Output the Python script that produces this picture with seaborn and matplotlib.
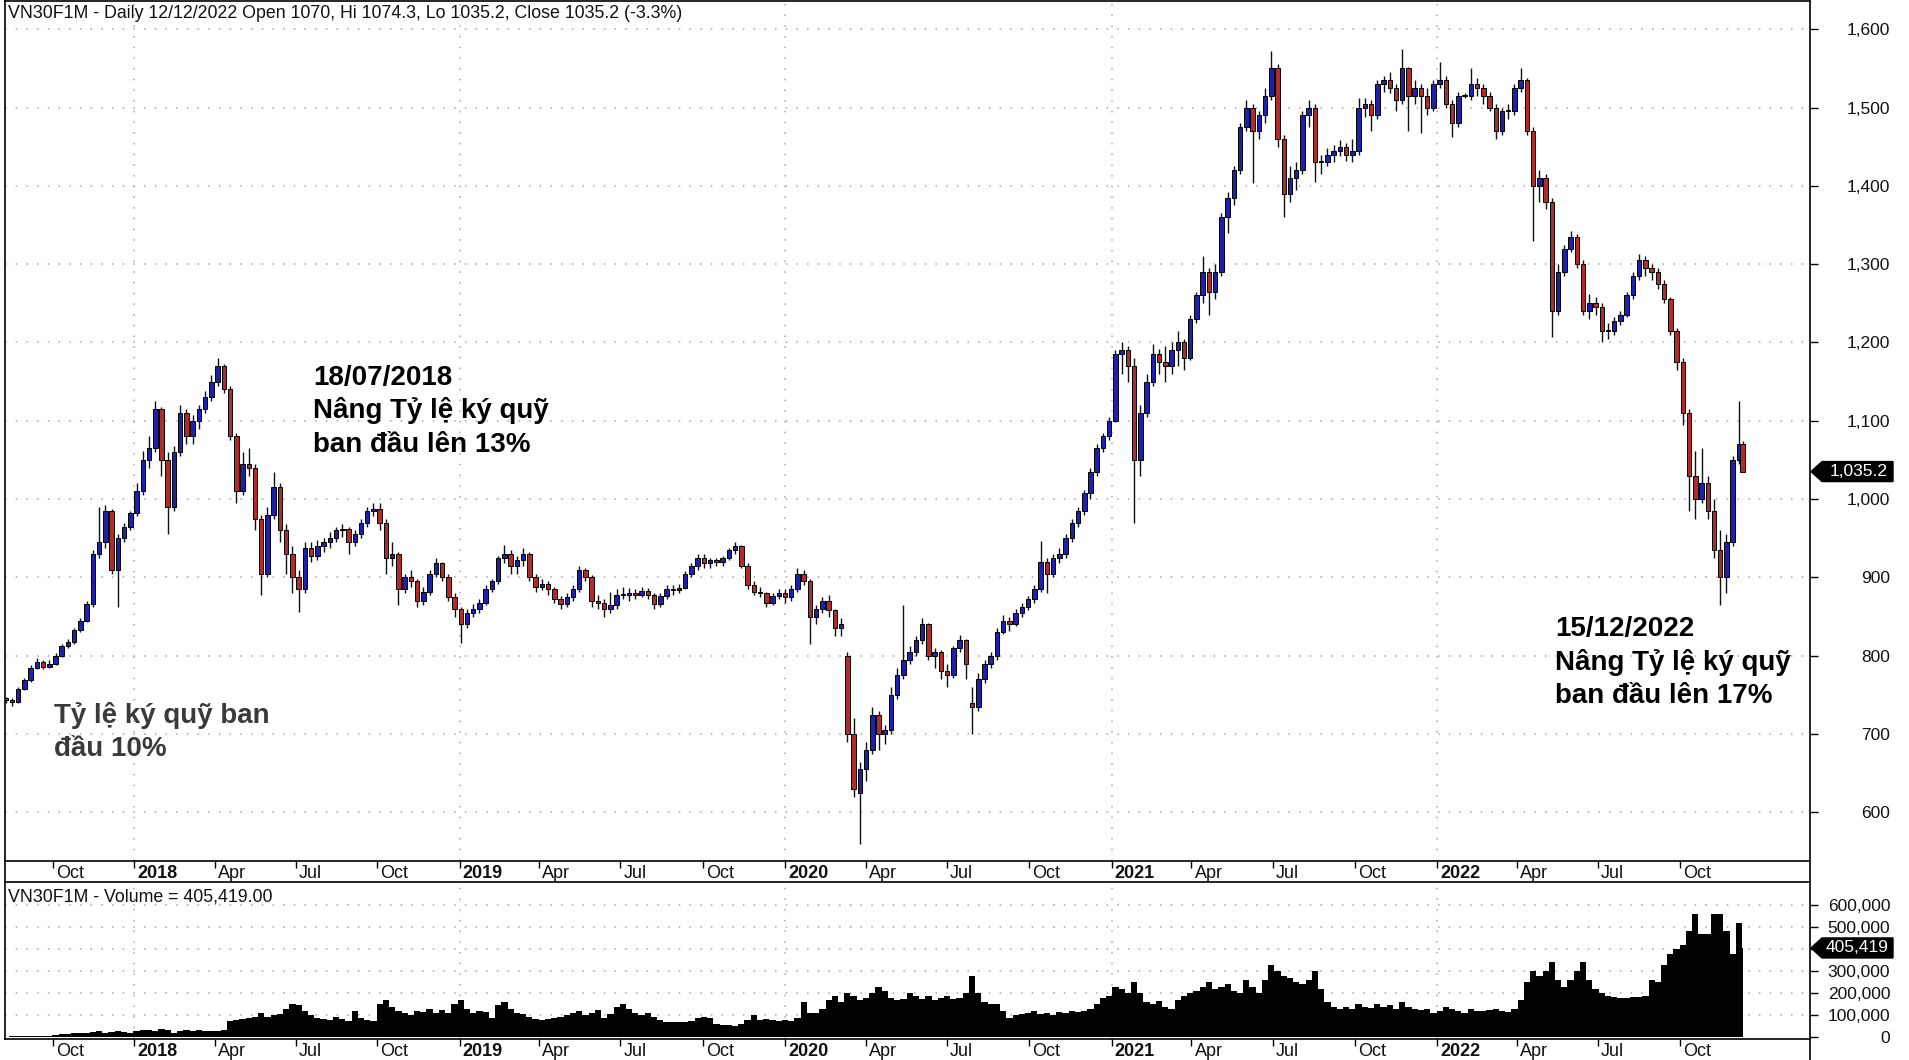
import numpy as np
import pandas as pd
import matplotlib
matplotlib.use("Agg")
import matplotlib.pyplot as plt
import matplotlib.transforms as mtransforms
from matplotlib.patches import Polygon
from matplotlib.lines import Line2D
import seaborn as sns

# ---------------- data (weekly candles, last = 12/12/2022) -------------
open_2017 = [745, 744, 741, 758, 769, 785, 792, 786, 790, 800, 812, 818, 833, 845, 866, 930, 945, 985, 910, 950, 965]
high_2017 = [748, 746, 760, 772, 788, 797, 794, 795, 803, 815, 822, 836, 848, 870, 935, 990, 992, 988, 955, 970, 985]
low_2017 = [740, 736, 740, 756, 767, 783, 783, 784, 788, 798, 810, 815, 830, 843, 862, 925, 938, 905, 862, 945, 960]
close_2017 = [744, 741, 758, 769, 785, 792, 786, 790, 800, 812, 818, 833, 845, 866, 930, 945, 985, 910, 950, 965, 982]
vol_k_2017 = [4, 5, 6, 6, 7, 8, 8, 9, 12, 15, 18, 20, 22, 20, 25, 28, 22, 25, 28, 25, 22]

open_2018 = [982, 1010, 1050, 1065, 1115, 1050, 990, 1060, 1110, 1080, 1100, 1115, 1130,
             1150, 1170, 1140, 1080, 1010, 1045, 1040, 975, 905, 980, 1015, 960, 930,
             900, 885, 938, 928, 940, 945, 950, 960, 962, 945, 955, 970, 985,
             988, 970, 925, 930, 885, 900, 895, 870, 882, 905, 918, 900, 875]
high_2018 = [1020, 1062, 1080, 1125, 1118, 1060, 1068, 1120, 1115, 1108, 1120, 1138, 1158,
             1180, 1172, 1145, 1085, 1060, 1065, 1045, 980, 990, 1035, 1020, 968, 940,
             910, 945, 945, 948, 950, 958, 965, 968, 965, 960, 975, 990, 995,
             995, 975, 945, 932, 905, 910, 898, 888, 910, 925, 920, 905, 880]
low_2018 = [978, 1005, 1040, 1060, 1030, 955, 985, 1055, 1070, 1070, 1090, 1110, 1125,
            1145, 1135, 1075, 995, 1005, 1030, 960, 878, 900, 975, 945, 905, 880,
            856, 880, 920, 922, 932, 938, 945, 952, 930, 940, 950, 965, 978,
            960, 905, 915, 865, 880, 888, 862, 865, 878, 900, 895, 870, 850]
close_2018 = [1010, 1050, 1065, 1115, 1050, 990, 1060, 1110, 1080, 1100, 1115, 1130, 1150,
              1170, 1140, 1080, 1010, 1045, 1040, 975, 905, 980, 1015, 960, 930, 900,
              885, 938, 928, 940, 945, 950, 960, 962, 945, 955, 970, 985, 988,
              970, 925, 930, 885, 900, 895, 870, 882, 905, 918, 900, 875, 860]
vol_k_2018 = [30, 32, 35, 30, 40, 35, 20, 30, 35, 30, 35, 30, 28,
              30, 32, 75, 80, 85, 90, 95, 110, 95, 100, 105, 130, 150,
              145, 120, 100, 90, 85, 80, 95, 85, 75, 120, 90, 80, 75,
              150, 170, 140, 120, 110, 100, 120, 115, 130, 110, 125, 110, 150]

open_2019 = [860, 840, 855, 860, 868, 885, 895, 925, 930, 915, 922, 930, 900,
             888, 892, 885, 872, 866, 875, 885, 910, 900, 870, 868, 860, 865,
             878, 878, 880, 878, 883, 878, 866, 876, 885, 884, 887, 905, 915,
             925, 918, 922, 920, 925, 935, 940, 915, 890, 882, 880, 868, 876]
high_2019 = [862, 860, 866, 872, 890, 898, 928, 942, 935, 928, 938, 932, 905,
             898, 895, 888, 876, 880, 890, 915, 912, 903, 878, 872, 882, 885,
             888, 886, 885, 888, 886, 880, 880, 890, 890, 892, 908, 918, 930,
             930, 925, 925, 928, 938, 945, 942, 918, 895, 888, 882, 880, 885]
low_2019 = [816, 835, 850, 855, 865, 882, 892, 918, 905, 905, 915, 895, 882,
            884, 878, 868, 860, 862, 870, 882, 895, 862, 860, 850, 855, 860,
            872, 870, 872, 875, 872, 860, 862, 872, 878, 880, 885, 900, 910,
            912, 912, 915, 915, 922, 930, 912, 885, 878, 875, 862, 865, 872]
close_2019 = [840, 855, 860, 868, 885, 895, 925, 930, 915, 922, 930, 900, 888,
              892, 885, 872, 866, 875, 885, 910, 900, 870, 868, 860, 865, 878,
              878, 880, 878, 883, 878, 866, 876, 885, 884, 887, 905, 915, 925,
              918, 922, 920, 925, 935, 940, 915, 890, 882, 880, 868, 876, 880]
vol_k_2019 = [170, 130, 110, 120, 115, 90, 145, 160, 130, 110, 105, 95, 85,
              80, 85, 90, 95, 100, 110, 120, 100, 110, 125, 90, 105, 140,
              150, 130, 110, 100, 110, 95, 80, 70, 70, 70, 72, 75, 90,
              95, 90, 60, 55, 55, 50, 60, 80, 100, 80, 85, 80, 75]

open_2020 = [880, 875, 885, 905, 895, 850, 860, 870, 858, 835, 800, 700, 625,
             655, 680, 725, 700, 705, 750, 775, 795, 805, 820, 840, 800, 805,
             780, 775, 810, 820, 740, 735, 770, 790, 800, 830, 845, 840, 855,
             862, 872, 885, 920, 905, 925, 930, 950, 970, 985, 1008, 1035, 1065]
high_2020 = [885, 890, 912, 910, 898, 865, 875, 878, 860, 848, 805, 720, 665,
             690, 735, 730, 712, 760, 785, 865, 812, 825, 848, 842, 810, 808,
             790, 812, 826, 822, 760, 778, 795, 805, 835, 852, 850, 860, 868,
             876, 890, 946, 925, 930, 938, 955, 975, 990, 1012, 1040, 1070, 1085]
low_2020 = [868, 870, 882, 890, 815, 840, 855, 850, 825, 825, 690, 620, 560,
            640, 675, 680, 688, 700, 745, 770, 790, 800, 815, 795, 785, 770,
            760, 772, 805, 770, 700, 730, 765, 785, 795, 828, 832, 838, 850,
            858, 868, 882, 880, 900, 918, 925, 945, 965, 980, 1000, 1030, 1060]
close_2020 = [875, 885, 905, 895, 850, 860, 870, 858, 835, 840, 700, 630, 655,
              680, 725, 700, 705, 750, 775, 795, 805, 820, 840, 800, 805, 780,
              775, 810, 820, 790, 735, 770, 790, 800, 830, 845, 840, 855, 862,
              872, 885, 920, 905, 925, 930, 950, 970, 985, 1008, 1035, 1065, 1080]
vol_k_2020 = [80, 75, 90, 160, 110, 110, 130, 170, 190, 160, 200, 190, 170,
              180, 200, 230, 210, 180, 170, 175, 200, 190, 175, 190, 170, 180,
              190, 175, 180, 200, 280, 200, 160, 150, 150, 120, 90, 100, 105,
              110, 120, 105, 110, 100, 115, 110, 120, 115, 120, 130, 150, 180]

open_2021 = [1080, 1100, 1185, 1190, 1170, 1050, 1110, 1150, 1185, 1175, 1170, 1190, 1200,
             1180, 1230, 1260, 1290, 1265, 1290, 1360, 1385, 1420, 1475, 1500, 1470, 1490,
             1515, 1550, 1460, 1390, 1410, 1420, 1490, 1500, 1430, 1430, 1440, 1445, 1450,
             1440, 1445, 1500, 1505, 1490, 1530, 1535, 1525, 1510, 1550, 1515, 1525, 1515, 1500]
high_2021 = [1105, 1190, 1200, 1195, 1180, 1120, 1160, 1198, 1192, 1195, 1200, 1215, 1205,
             1235, 1265, 1310, 1295, 1300, 1365, 1392, 1425, 1480, 1510, 1505, 1495, 1525,
             1572, 1555, 1465, 1425, 1430, 1495, 1510, 1505, 1440, 1448, 1452, 1458, 1455,
             1460, 1512, 1512, 1510, 1535, 1540, 1545, 1530, 1575, 1552, 1535, 1530, 1525, 1535]
low_2021 = [1075, 1098, 1160, 1150, 969, 1030, 1105, 1145, 1160, 1150, 1160, 1170, 1165,
            1178, 1225, 1250, 1235, 1255, 1285, 1340, 1375, 1415, 1470, 1403, 1460, 1480,
            1510, 1450, 1360, 1380, 1395, 1415, 1475, 1405, 1415, 1425, 1430, 1438, 1432,
            1430, 1440, 1488, 1470, 1485, 1520, 1518, 1495, 1505, 1470, 1505, 1468, 1490, 1495]
close_2021 = [1100, 1185, 1190, 1170, 1050, 1110, 1150, 1185, 1175, 1170, 1190, 1200, 1180,
              1230, 1260, 1290, 1265, 1290, 1360, 1385, 1420, 1475, 1500, 1470, 1490, 1515,
              1550, 1460, 1390, 1410, 1420, 1490, 1500, 1430, 1430, 1440, 1445, 1450, 1440,
              1445, 1500, 1505, 1490, 1530, 1535, 1525, 1510, 1550, 1515, 1525, 1515, 1500, 1530]
vol_k_2021 = [190, 230, 220, 200, 250, 200, 160, 150, 165, 140, 130, 170, 190,
              200, 210, 230, 250, 220, 230, 240, 210, 200, 260, 230, 200, 260,
              330, 300, 280, 270, 250, 240, 260, 300, 220, 160, 140, 130, 140,
              130, 150, 140, 135, 150, 140, 145, 130, 160, 140, 130, 125, 130, 110]

open_2022 = [1530, 1535, 1505, 1480, 1515, 1515, 1530, 1525, 1515, 1500, 1470, 1495,
             1495, 1525, 1535, 1470, 1400, 1410, 1380, 1240, 1290, 1320, 1335, 1300, 1240,
             1250, 1245, 1215, 1215, 1228, 1235, 1260, 1285, 1305, 1295, 1290, 1275, 1255, 1215,
             1175, 1110, 1030, 1000, 1020, 985, 935, 900, 945, 1050, 1070]
high_2022 = [1558, 1540, 1510, 1520, 1518, 1550, 1538, 1530, 1520, 1505, 1500, 1505,
             1530, 1550, 1538, 1475, 1420, 1415, 1385, 1300, 1325, 1342, 1338, 1305, 1262,
             1258, 1250, 1225, 1232, 1240, 1265, 1290, 1313, 1310, 1300, 1295, 1280, 1258, 1218,
             1180, 1115, 1062, 1065, 1030, 1000, 960, 955, 1055, 1125, 1074.3]
low_2022 = [1525, 1500, 1462, 1475, 1512, 1510, 1515, 1505, 1495, 1460, 1465, 1485,
            1490, 1520, 1465, 1330, 1380, 1370, 1207, 1235, 1285, 1315, 1295, 1235, 1230,
            1235, 1200, 1205, 1210, 1222, 1232, 1255, 1280, 1285, 1280, 1268, 1250, 1210, 1165,
            1095, 985, 975, 995, 975, 925, 865, 880, 940, 1045, 1035.2]
close_2022 = [1535, 1505, 1480, 1515, 1515, 1530, 1525, 1515, 1500, 1470, 1495, 1495,
              1525, 1535, 1470, 1400, 1410, 1380, 1240, 1290, 1320, 1335, 1300, 1240, 1250,
              1245, 1215, 1215, 1228, 1235, 1260, 1285, 1305, 1295, 1290, 1275, 1255, 1215, 1175,
              1110, 1030, 1000, 1020, 985, 935, 900, 945, 1050, 1070, 1035.2]
vol_k_2022 = [120, 140, 130, 120, 110, 130, 120, 120, 125, 130, 120, 115,
              130, 170, 250, 300, 280, 300, 340, 260, 230, 260, 300, 340, 260,
              220, 200, 190, 185, 180, 180, 185, 185, 190, 260, 250, 330, 380, 400,
              420, 480, 560, 470, 470, 560, 560, 480, 380, 520, 405.419]

price_ticks = [600, 700, 800, 900, 1000, 1100, 1200, 1300, 1400, 1500, 1600]
volume_ticks = [0, 100000, 200000, 300000, 400000, 500000, 600000]
volume_tick_labels = ["0", "100,000", "200,000", "300,000", "", "500,000", "600,000"]
quarter_starts = pd.date_range("2017-10-01", "2022-10-01", freq="QS")

title_price = "VN30F1M - Daily 12/12/2022 Open 1070, Hi 1074.3, Lo 1035.2, Close 1035.2 (-3.3%)"
title_volume = "VN30F1M - Volume = 405,419.00"
note_2018 = ["18/07/2018", "Nâng Tỷ lệ ký quỹ", "ban đầu lên 13%"]
note_start = ["Tỷ lệ ký quỹ ban", "đầu 10%"]
note_2022 = ["15/12/2022", "Nâng Tỷ lệ ký quỹ", "ban đầu lên 17%"]

# ---------------- assemble ----------------
o = np.array(open_2017 + open_2018 + open_2019 + open_2020 + open_2021 + open_2022, float)
h = np.array(high_2017 + high_2018 + high_2019 + high_2020 + high_2021 + high_2022, float)
l = np.array(low_2017 + low_2018 + low_2019 + low_2020 + low_2021 + low_2022, float)
c = np.array(close_2017 + close_2018 + close_2019 + close_2020 + close_2021 + close_2022, float)
v = np.array(vol_k_2017 + vol_k_2018 + vol_k_2019 + vol_k_2020 + vol_k_2021 + vol_k_2022, float) * 1000

week_end = list(pd.date_range("2017-08-11", "2022-12-09", freq="W-FRI")) + [pd.Timestamp("2022-12-12")]
n = min(len(week_end), len(o), len(h), len(l), len(c), len(v))
o, h, l, c, v = o[:n], h[:n], l[:n], c[:n], v[:n]
week_end = week_end[:n]

bdays = pd.bdate_range("2017-08-07", "2023-06-30")
def bpos(d):
    return int(bdays.searchsorted(pd.Timestamp(d)))

xpos = np.array([bpos(d) - (2 if d.weekday() == 4 else 0) for d in week_end], float)
bar_w = np.array([5.0 if d.weekday() == 4 else 1.0 for d in week_end])
first_day = bpos("2017-08-10")
last_day = bpos("2022-12-12")

df = pd.DataFrame({"x": xpos, "open": o, "high": h, "low": l, "close": c, "volume": v, "w": bar_w})

# ---------------- style ----------------
sns.set_theme(style="white")
plt.rcParams["font.family"] = ["Liberation Sans", "DejaVu Sans"]
plt.rcParams["axes.linewidth"] = 1.2
plt.rcParams["axes.edgecolor"] = "black"

W, H = 1909, 1060
fig = plt.figure(figsize=(W / 100, H / 100), dpi=100)
fig.patch.set_facecolor("white")

def fx(px):
    return px / W

def fy(py):
    return 1 - py / H

ax = fig.add_axes([fx(5), fy(861), fx(1810) - fx(5), fy(1) - fy(861)])
axv = fig.add_axes([fx(5), fy(1039), fx(1810) - fx(5), fy(882) - fy(1039)])

xlim = (first_day - 1.5, last_day + 54)
GRID = dict(color="#a8a8a8", linestyle=(0, (1, 6)), linewidth=1.1, zorder=0)

year_pos = [bpos(d) for d in quarter_starts if d.month == 1]
tick_pos = [bpos(d) for d in quarter_starts]
tick_lab = [str(d.year) if d.month == 1 else d.strftime("%b") for d in quarter_starts]

# ---------- price pane ----------
for yv in price_ticks:
    ax.axhline(yv, **GRID)
for xp in year_pos:
    ax.axvline(xp, **GRID)

up = df["close"] >= df["open"]
body_col = np.where(up, "#1f1fae", "#b02c28")
ax.vlines(df["x"], df["low"], df["high"], color="#111111", linewidth=1.0, zorder=2)
body_h = np.maximum((df["close"] - df["open"]).abs(), 1.5)
ax.bar(df["x"], body_h, bottom=np.minimum(df["open"], df["close"]), width=3.6,
       color=body_col, edgecolor="black", linewidth=0.7, zorder=3)

ax.set_xlim(*xlim)
ax.set_ylim(538, 1636)
ax.yaxis.tick_right()
ax.set_yticks(price_ticks)
ax.set_yticklabels([f"{t:,}" for t in price_ticks])
ax.tick_params(axis="y", direction="out", length=6, width=1, color="black",
               labelsize=12.5, labelcolor="#111111", pad=51.8, right=True, left=False)
for lab in ax.get_yticklabels():
    lab.set_ha("right")
ax.set_xticks(tick_pos)
ax.set_xticklabels([])
ax.tick_params(axis="x", direction="out", length=5, width=1, color="black", bottom=True)
ax.set_xlabel("")
ax.set_ylabel("")

# ---------- volume pane ----------
for yv in volume_ticks[1:]:
    axv.axhline(yv, **GRID)
for xp in year_pos:
    axv.axvline(xp, **GRID)
axv.bar(df["x"], df["volume"], width=df["w"], color="black", linewidth=0, zorder=2)
axv.set_xlim(*xlim)
axv.set_ylim(-6800, 704000)
axv.yaxis.tick_right()
axv.set_yticks(volume_ticks)
axv.set_yticklabels(volume_tick_labels)
axv.tick_params(axis="y", direction="out", length=6, width=1, color="black",
                labelsize=12.5, labelcolor="#111111", pad=51.8, right=True, left=False)
for lab in axv.get_yticklabels():
    lab.set_ha("right")
axv.set_xticks(tick_pos)
axv.set_xticklabels([])
axv.tick_params(axis="x", direction="out", length=5, width=1, color="black", bottom=True)
axv.set_xlabel("")
axv.set_ylabel("")

# date labels, drawn to the right of each tick mark
for a in (ax, axv):
    base = mtransforms.blended_transform_factory(a.transData, a.transAxes)
    tr = mtransforms.offset_copy(base, fig=fig, x=3, y=-4, units="dots")
    for xp, lab in zip(tick_pos, tick_lab):
        a.text(xp, 0, lab, transform=tr, ha="left", va="top", fontsize=13,
               fontweight="bold" if lab.isdigit() else "normal", color="#111111",
               clip_on=False)

# ---------- titles ----------
fig.text(fx(8), fy(5), title_price, ha="left", va="top", fontsize=12.8, color="#111111")
fig.text(fx(8), fy(888), title_volume, ha="left", va="top", fontsize=12.8, color="#111111")

# ---------- annotations ----------
def note(lines, x_px, base_px, color):
    for i, s in enumerate(lines):
        fig.text(fx(x_px), fy(base_px + i * 33.5), s, ha="left", va="baseline",
                 fontsize=20, fontweight="bold", color=color)

note(note_2018, 313, 385, "#000000")
note(note_start, 54, 723, "#3a3a3a")
note(note_2022, 1555, 636, "#000000")

# ---------- last value tags ----------
def tag(a, yval, text, px_per_unit):
    tr = mtransforms.blended_transform_factory(fig.transFigure, a.transData)
    hh = 10.0 / px_per_unit
    pts = [(fx(1811), yval), (fx(1822), yval + hh), (fx(1893), yval + hh),
           (fx(1893), yval - hh), (fx(1822), yval - hh)]
    a.add_patch(Polygon(pts, closed=True, transform=tr, facecolor="black",
                        edgecolor="black", clip_on=False, zorder=5))
    a.text(fx(1888), yval, text, transform=tr, ha="right", va="center",
           fontsize=12.5, color="white", clip_on=False, zorder=6)

tag(ax, c[-1], f"{c[-1]:,.1f}", 860 / (1636 - 538))
tag(axv, v[-1], f"{v[-1]:,.0f}", 157 / (704000 + 6800))

# ---------- connecting frame lines ----------
for (x0, y0, x1, y1) in [(1810, 861, 1810, 882), (1810, 1039, 1810, 1060), (5, 861, 5, 882)]:
    fig.add_artist(Line2D([fx(x0), fx(x1)], [fy(y0), fy(y1)], color="black", linewidth=1.2))

fig.savefig("out.png", dpi=100, facecolor="white")
